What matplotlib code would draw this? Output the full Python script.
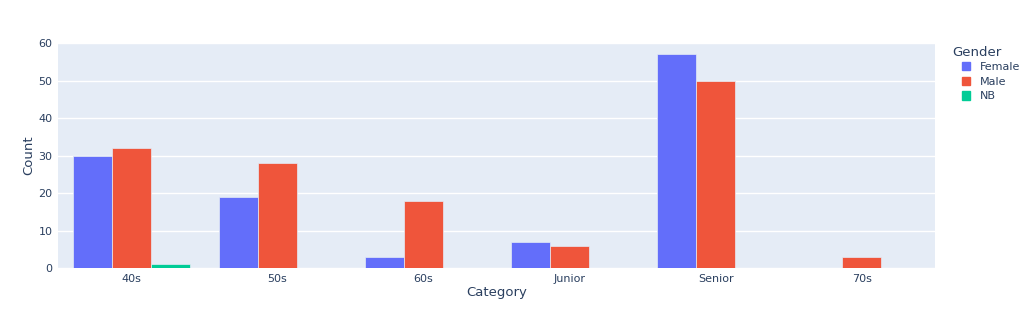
import numpy as np
import matplotlib.pyplot as plt
from matplotlib.patches import Patch

categories = ['40s', '50s', '60s', 'Junior', 'Senior', '70s']
female = [30, 19, 3, 7, 57, 0]
male = [32, 28, 18, 6, 50, 3]
nb = [1, 0, 0, 0, 0, 0]

series = [('Female', female, '#636efa'), ('Male', male, '#ef553b'), ('NB', nb, '#00cc96')]
text_color = '#2a3f5f'

fig = plt.figure(figsize=(10.24, 3.27), dpi=100)
ax = fig.add_axes([0.0566, 0.180, 0.8565, 0.6885])
ax.set_facecolor('#e5ecf6')

x = np.arange(len(categories))
w = 0.8 / 3
for i, (name, vals, col) in enumerate(series):
    ax.bar(x + (i - 1) * w, vals, width=w, color=col, edgecolor='#e5ecf6',
           linewidth=0.5, zorder=3)

ax.set_xlim(-0.5, len(categories) - 0.5)
ax.set_ylim(0, 60)
ax.set_yticks(range(0, 61, 10))
ax.set_xticks(x)
ax.set_xticklabels(categories)
ax.grid(axis='y', color='white', linewidth=1, zorder=0)
ax.set_axisbelow(True)
for s in ax.spines.values():
    s.set_visible(False)
ax.tick_params(length=0, labelsize=8, labelcolor=text_color, pad=4)
ax.set_xlabel('Category', fontsize=9.5, color=text_color, labelpad=2)
ax.set_ylabel('Count', fontsize=9.5, color=text_color, labelpad=2)

# legend: title placed separately so the entries sit indented under it
fig.text(952 / 1024, 1 - 52 / 327, 'Gender', fontsize=9.5, color=text_color,
         ha='left', va='center')
handles = [Patch(facecolor=c, edgecolor=c) for _, _, c in series]
leg = fig.legend(handles, [n for n, _, _ in series],
                 loc='upper left', bbox_to_anchor=(962 / 1024, 1 - 62 / 327), frameon=False,
                 fontsize=8, handlelength=0.75, handleheight=0.75,
                 handletextpad=0.9, labelspacing=0.42, borderpad=0, borderaxespad=0)
for t in leg.get_texts():
    t.set_color(text_color)

fig.savefig('out.png', dpi=100)
